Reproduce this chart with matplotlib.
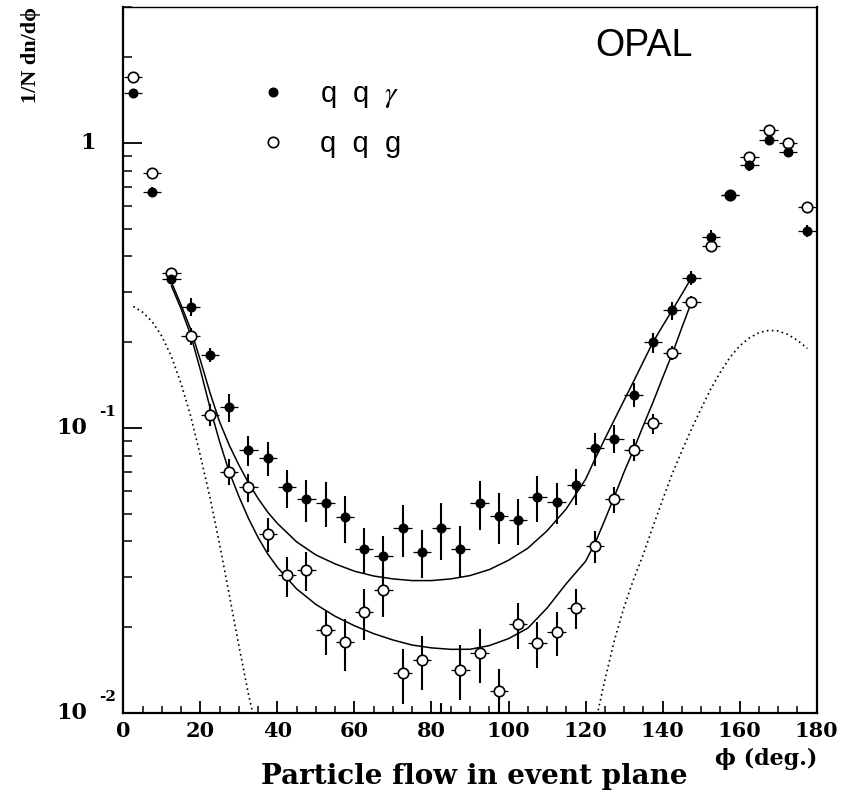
import matplotlib
matplotlib.use('Agg')
import matplotlib.pyplot as plt
from matplotlib.ticker import MultipleLocator, LogLocator, NullFormatter
from matplotlib.transforms import offset_copy

plt.rcParams['mathtext.fontset'] = 'stix'

# ---------------- data ----------------
phi = [2.5, 7.5, 12.5, 17.5, 22.5, 27.5, 32.5, 37.5, 42.5, 47.5, 52.5, 57.5,
       62.5, 67.5, 72.5, 77.5, 82.5, 87.5, 92.5, 97.5, 102.5, 107.5, 112.5, 117.5,
       122.5, 127.5, 132.5, 137.5, 142.5, 147.5, 152.5, 157.5, 162.5, 167.5, 172.5, 177.5]

qqgamma = [1.50, 0.673, 0.334, 0.266, 0.181, 0.118, 0.0835, 0.0785, 0.0618, 0.0561, 0.0547, 0.0485,
           0.0377, 0.0355, 0.0444, 0.0367, 0.0446, 0.0375, 0.0545, 0.0490, 0.0475, 0.0573, 0.0550, 0.0628,
           0.0847, 0.0918, 0.131, 0.200, 0.259, 0.337, 0.468, 0.659, 0.835, 1.028, 0.930, 0.491]
qqgamma_err = [0.036, 0.027, 0.0135, 0.0194, 0.0102, 0.0134, 0.0101, 0.0108, 0.0095, 0.0095, 0.0097, 0.0090,
               0.0070, 0.0063, 0.0093, 0.0071, 0.0101, 0.0079, 0.0106, 0.0099, 0.0088, 0.0106, 0.0089, 0.0091,
               0.0110, 0.0104, 0.0127, 0.0162, 0.0188, 0.0190, 0.0265, 0.027, 0.034, 0.033, 0.038, 0.024]

qqg = [1.714, 0.787, 0.350, 0.210, 0.1114, 0.0703, 0.0618, 0.0424, 0.0304, 0.0317, 0.0195, 0.01766,
       0.0226, 0.0269, 0.01375, 0.0153, 0.0088, 0.01416, 0.01625, 0.01189, 0.0205, 0.0176, 0.0192, 0.0234,
       0.0385, 0.0562, 0.0837, 0.1039, 0.183, 0.2767, 0.435, 0.66, 0.893, 1.108, 1.00, 0.596]
qqg_err = [0.04, 0.019, 0.014, 0.015, 0.0099, 0.0074, 0.0070, 0.0058, 0.0049, 0.0049, 0.0035, 0.0036,
           0.0046, 0.0052, 0.0030, 0.0033, 0.0020, 0.0031, 0.0035, 0.0024, 0.0038, 0.0033, 0.0034, 0.0038,
           0.0050, 0.0059, 0.0074, 0.0084, 0.0104, 0.0134, 0.021, 0.021, 0.029, 0.036, 0.032, 0.019]

fit_phi = [12.5, 15, 17.5, 20, 22.5, 25, 27.5, 30, 32.5, 35, 37.5, 40, 45, 50, 55, 60, 65, 70, 75,
           80, 85, 90, 95, 100, 105, 110, 115, 120, 122.5, 125, 127.5, 130, 132.5, 135, 137.5, 140,
           142.5, 145, 147.5]
fit_qqgamma = [0.325, 0.27, 0.222, 0.173, 0.133, 0.105, 0.087, 0.0741, 0.0641, 0.0565, 0.0506, 0.0462,
               0.0398, 0.0358, 0.0333, 0.0314, 0.0302, 0.0295, 0.0291, 0.0291, 0.0295, 0.0303, 0.0318,
               0.0343, 0.0378, 0.0435, 0.052, 0.066, 0.078, 0.0915, 0.107, 0.125, 0.146, 0.171, 0.200,
               0.228, 0.259, 0.295, 0.337]
fit_qqg = [0.315, 0.262, 0.212, 0.160, 0.118, 0.0895, 0.070, 0.0575, 0.0481, 0.0412, 0.0361, 0.0324,
           0.0272, 0.0240, 0.0218, 0.0202, 0.01895, 0.0180, 0.01728, 0.01689, 0.01669, 0.0167, 0.0172,
           0.0182, 0.0198, 0.0233, 0.0284, 0.0340, 0.0395, 0.0475, 0.0575, 0.070, 0.084, 0.102, 0.123,
           0.150, 0.182, 0.225, 0.277]

dot_left_phi = [2.6, 5.0, 7.5, 10.0, 12.5, 15.0, 17.5, 20.0, 22.5, 25.0, 27.5, 30.0, 32.5, 34.2]
dot_left_val = [0.267, 0.255, 0.236, 0.210, 0.178, 0.143, 0.110, 0.080, 0.057, 0.039, 0.026, 0.0172,
                0.0116, 0.0092]
dot_right_phi = [123.0, 125.0, 127.5, 130.0, 132.5, 135.0, 137.5, 140.0, 142.5, 145.0, 147.5, 150.0,
                 152.5, 155.0, 157.5, 160.0, 162.5, 165.0, 167.5, 170.0, 172.5, 175.0, 177.6]
dot_right_val = [0.0098, 0.0130, 0.0180, 0.0235, 0.0295, 0.036, 0.045, 0.056, 0.069, 0.083, 0.099, 0.117,
                 0.137, 0.157, 0.177, 0.194, 0.207, 0.216, 0.220, 0.219, 0.213, 0.203, 0.190]

x_ticks = [0, 20, 40, 60, 80, 100, 120, 140, 160, 180]
y_ticks = [0.01, 0.1, 1.0]

# ---------------- figure ----------------
fig = plt.figure(figsize=(8.41, 7.91), dpi=100)
ax = fig.add_axes([0.1466, 0.0990, 0.8245, 0.8918])
ax.set_yscale('log')
ax.set_xlim(0, 180)
ax.set_ylim(0.01, 3.0)

# dotted curves
dot_style = dict(color='black', lw=1.2, linestyle=(0, (1, 2.0)))
ax.plot(dot_left_phi, dot_left_val, **dot_style)
ax.plot(dot_right_phi, dot_right_val, **dot_style)

# fits
ax.plot(fit_phi, fit_qqgamma, color='black', lw=1.1)
ax.plot(fit_phi, fit_qqg, color='black', lw=1.1)

# error bars
for vals, errs in ((qqg, qqg_err), (qqgamma, qqgamma_err)):
    ax.errorbar(phi, vals, yerr=errs, fmt='none', ecolor='black', elinewidth=1.5, capsize=0)
    ax.errorbar(phi, vals, xerr=2.4, fmt='none', ecolor='black', elinewidth=0.9, capsize=0)

h_open, = ax.plot(phi, qqg, 'o', ms=7.5, mfc='white', mec='black', mew=1.2, zorder=5)
h_fill, = ax.plot(phi, qqgamma, 'o', ms=6.2, mfc='black', mec='black', mew=1.0, zorder=6)

# axes styling
for s in ax.spines.values():
    s.set_linewidth(1.6)
ax.spines['top'].set_linewidth(1.0)

tick_font = dict(fontfamily='DejaVu Serif', fontweight='bold')
ax.set_xticks(x_ticks)
ax.xaxis.set_minor_locator(MultipleLocator(5))
ax.set_xticklabels([str(t) for t in x_ticks], fontsize=15, **tick_font)
ax.set_yticks(y_ticks)
ax.yaxis.set_minor_locator(LogLocator(base=10, subs=[2, 3, 4, 5, 6, 7, 8, 9]))
ax.yaxis.set_minor_formatter(NullFormatter())
ax.set_yticklabels(['', '', ''])

ax.tick_params(axis='x', which='major', direction='in', length=9, width=1.3, pad=6, top=False)
ax.tick_params(axis='x', which='minor', direction='in', length=4.8, width=1.1, top=False)
ax.tick_params(axis='y', which='major', direction='in', length=13.4, width=1.3, right=False)
ax.tick_params(axis='y', which='minor', direction='in', length=6.7, width=1.1, right=False)

# y tick labels (ROOT style)
ytr = ax.get_yaxis_transform()
sup_tr = offset_copy(ytr, fig=fig, x=0, y=16, units='dots')
ax.text(-0.040, y_ticks[2], '1', transform=ytr, ha='right', va='center', fontsize=16, **tick_font)
for val, ex in ((y_ticks[1], '-1'), (y_ticks[0], '-2')):
    ax.text(-0.0524, val, '10', transform=ytr, ha='right', va='center', fontsize=16, **tick_font)
    ax.text(-0.035, val, ex, transform=sup_tr, ha='left', va='center', fontsize=11, **tick_font)

# axis titles
fig.text(31 / 841, 1 - 55 / 791, '1/N dn/d\u03d5', rotation=90, ha='center', va='center',
         fontsize=16, fontfamily=['Liberation Serif', 'DejaVu Serif'], fontweight='bold')
fig.text(474 / 841, 1 - 776 / 791, 'Particle flow in event plane', ha='center', va='center',
         fontsize=20, **tick_font)
fig.text(817 / 841, 1 - 759 / 791, '\u03d5 (deg.)', ha='right', va='center',
         fontsize=16, **tick_font)

# OPAL label
ax.text(0.751, 0.945, 'OPAL', transform=ax.transAxes, ha='center', va='center',
        fontsize=27, fontfamily='Liberation Sans', fontweight='light')

# legend
leg = ax.legend([h_fill, h_open], ['q  q  $\\gamma$', 'q  q  g'], loc='upper left',
                bbox_to_anchor=(0.195, 0.897), frameon=False, borderpad=0, borderaxespad=0,
                handlelength=1.0, handletextpad=1.1, labelspacing=0.7,
                prop=dict(family='Liberation Sans', size=21))

fig.savefig('out.png', dpi=100)
